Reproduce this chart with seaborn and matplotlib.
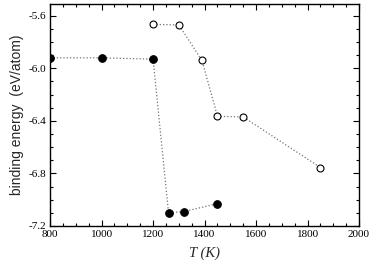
import matplotlib
matplotlib.use("Agg")
import matplotlib.pyplot as plt
import seaborn as sns
import pandas as pd
from matplotlib.ticker import MultipleLocator

T_filled = [800, 1000, 1200, 1260, 1320, 1450]
E_filled = [-5.92, -5.92, -5.93, -7.10, -7.09, -7.03]
T_open = [1200, 1300, 1390, 1450, 1550, 1850]
E_open = [-5.665, -5.67, -5.94, -6.365, -6.37, -6.755]

sns.set_theme(style="ticks")
plt.rcParams['font.family'] = ['Liberation Serif', 'DejaVu Serif']

fig = plt.figure(figsize=(3.74, 2.64), dpi=100)
ax = fig.add_axes([0.134, 0.144, 0.826, 0.841])

df_f = pd.DataFrame({"T": T_filled, "E": E_filled})
df_o = pd.DataFrame({"T": T_open, "E": E_open})

sns.lineplot(data=df_f, x="T", y="E", ax=ax, color="0.45", linestyle=":", lw=0.9,
             marker="o", markersize=5.5, markerfacecolor="black", markeredgecolor="black",
             sort=False)
sns.lineplot(data=df_o, x="T", y="E", ax=ax, color="0.45", linestyle=":", lw=0.9,
             marker="o", markersize=5, markerfacecolor="white", markeredgecolor="black",
             markeredgewidth=0.8, sort=False)

ax.set_xlim(800, 2000)
ax.set_ylim(-7.2, -5.51)
ax.xaxis.set_major_locator(MultipleLocator(200))
ax.xaxis.set_minor_locator(MultipleLocator(50))
ax.yaxis.set_major_locator(MultipleLocator(0.4))
ax.yaxis.set_minor_locator(MultipleLocator(0.1))
ax.tick_params(which="both", direction="in", top=True, right=True, labelsize=8, colors="black")
ax.tick_params(which="major", length=4, width=0.8, pad=3)
ax.tick_params(which="minor", length=2.5, width=0.8)
ax.set_yticks([-5.6, -6.0, -6.4, -6.8, -7.2])
ax.set_yticklabels(["-5.6", "-6.0", "-6.4", "-6.8", "-7.2"])
for s in ax.spines.values():
    s.set_color("black")
    s.set_linewidth(1.0)

ax.set_xlabel("T (K)", fontsize=10.5, family="Liberation Serif", style="italic", labelpad=5)
ax.set_ylabel("binding energy  (eV/atom)", fontsize=10, family="Liberation Sans", labelpad=3)

fig.savefig("out.png", dpi=100)
